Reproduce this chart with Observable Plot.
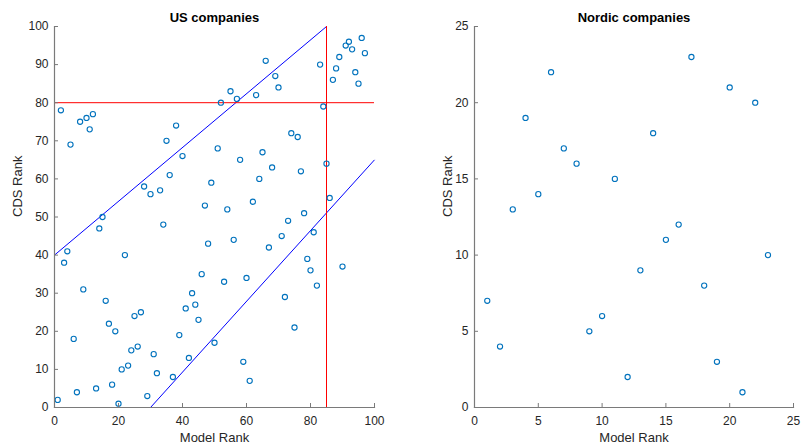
<!DOCTYPE html>
<html>
<head>
<meta charset="utf-8">
<script src="https://cdn.jsdelivr.net/npm/d3@7"></script>
<script src="https://cdn.jsdelivr.net/npm/@observablehq/plot@0.6"></script>
<style>
  html, body { margin: 0; padding: 0; background: #fff; }
  #wrap { position: relative; width: 803px; height: 448px; overflow: hidden; }
  #wrap > div { position: absolute; top: 0; }
</style>
</head>
<body>
<div id="wrap"><div id="p1" style="left:0"></div><div id="p2" style="left:400px"></div></div>
<script>
// ---- US companies ----
const usModelRank = [1,2,3,4,5,6,7,8,9,10,11,12,13,14,15,16,17,18,19,20,21,22,23,24,25,26,27,28,29,30,31,32,33,34,35,36,37,38,39,40,41,42,43,44,45,46,47,48,49,50,51,52,53,54,55,56,57,58,59,60,61,62,63,64,65,66,67,68,69,70,71,72,73,74,75,76,77,78,79,80,81,82,83,84,85,86,87,88,89,90,91,92,93,94,95,96,97];
const usCdsRank = [2,78,38,41,69,18,4,75,31,76,73,77,5,47,50,28,22,6,20,1,10,40,11,15,24,16,25,58,3,56,14,9,57,48,70,61,8,74,19,66,26,13,30,27,23,35,53,43,59,17,68,80,33,52,83,44,81,65,12,34,7,54,82,60,67,91,42,63,87,84,45,29,49,72,21,71,62,51,39,36,46,32,90,79,64,55,86,89,92,37,95,96,94,88,85,97,93];
// ---- Nordic companies ----
const nordicModelRank = [1,2,3,4,5,6,7,8,9,10,11,12,13,14,15,16,17,18,19,20,21,22,23];
const nordicCdsRank = [7,4,13,19,14,22,17,16,5,6,15,2,9,18,11,12,23,8,3,21,1,20,10];
// ---- reference lines (US panel) ----
const bandLineX1 = [0, 30];
const bandLineY1 = [40, 0];
const bandLineX2 = [85, 100];
const bandLineY2 = [100, 65];
const cutoffModel = [85];
const cutoffCds = [80];
// ---- tick labels ----
const usXTicks = [0,20,40,60,80,100];
const usYTicks = [0,10,20,30,40,50,60,70,80,90,100];
const nordicTicks = [0,5,10,15,20,25];

const titles = ["US companies", "Nordic companies"];
const xLabel = "Model Rank";
const yLabel = "CDS Rank";

const FONT = "'Liberation Sans', Arial, Helvetica, sans-serif";
const markerColor = "#0072BD";
const axisColor = "#7a7a7a";
const textColor = "#262626";
const HEIGHT = 448, MT = 26, MB = 41, TICK = 4;

function makePanel({width, marginLeft, marginRight, xDomain, yDomain, xTicks, yTicks, xs, ys, title, yLabelDx, extra}) {
  const fw = width - marginLeft - marginRight;
  const fh = HEIGHT - MT - MB;
  const pts = xs.map((x, i) => ({x, y: ys[i]}));
  return Plot.plot({
    width, height: HEIGHT,
    marginLeft, marginRight, marginTop: MT, marginBottom: MB,
    style: {fontFamily: FONT, fontSize: "12px", color: textColor, background: "#fff", overflow: "visible"},
    x: {domain: xDomain, label: null},
    y: {domain: yDomain, label: null},
    marks: [
      ...extra,
      Plot.dot(pts, {x: "x", y: "y", r: 2.6, stroke: markerColor, strokeWidth: 1.1, fill: "none"}),
      Plot.axisX({ticks: xTicks, tickSize: 0, tickPadding: 9, fill: textColor, fontSize: 12}),
      Plot.axisY({ticks: yTicks, tickSize: 0, tickPadding: 6, fill: textColor, fontSize: 12}),
      // inward tick marks (short rules anchored at the axes)
      Plot.ruleX(xTicks, {x: d => d, y1: yDomain[1], y2: yDomain[0], insetTop: fh - TICK, stroke: axisColor, strokeWidth: 1}),
      Plot.ruleY(yTicks, {y: d => d, x1: xDomain[0], x2: xDomain[1], insetRight: fw - TICK, stroke: axisColor, strokeWidth: 1}),
      Plot.frame({anchor: "bottom", stroke: axisColor, strokeWidth: 1.2}),
      Plot.frame({anchor: "left", stroke: axisColor, strokeWidth: 1.2}),
      Plot.text([title], {frameAnchor: "top", lineAnchor: "middle", dy: -9, fontWeight: "bold", fontSize: 13, fill: "#000"}),
      Plot.text([xLabel], {frameAnchor: "bottom", lineAnchor: "middle", dy: 30, fontSize: 13, fill: textColor}),
      Plot.text([yLabel], {frameAnchor: "left", lineAnchor: "middle", dx: yLabelDx, rotate: -90, fontSize: 13, fill: textColor})
    ]
  });
}

const p1 = makePanel({
  width: 400, marginLeft: 54, marginRight: 26,
  xDomain: [0, 100], yDomain: [0, 100], xTicks: usXTicks, yTicks: usYTicks,
  xs: usModelRank, ys: usCdsRank, title: titles[0], yLabelDx: -37,
  extra: [
    Plot.link([0, 1], {x1: i => bandLineX1[i], y1: i => bandLineY1[i], x2: i => bandLineX2[i], y2: i => bandLineY2[i], stroke: "#0000ff", strokeWidth: 1}),
    Plot.ruleY(cutoffCds, {y: d => d, stroke: "#ff0000", strokeWidth: 1}),
    Plot.ruleX(cutoffModel, {x: d => d, stroke: "#ff0000", strokeWidth: 1})
  ]
});

const p2 = makePanel({
  width: 403, marginLeft: 74, marginRight: 10,
  xDomain: [0, 25], yDomain: [0, 25], xTicks: nordicTicks, yTicks: nordicTicks,
  xs: nordicModelRank, ys: nordicCdsRank, title: titles[1], yLabelDx: -27,
  extra: []
});

document.getElementById("p1").appendChild(p1);
document.getElementById("p2").appendChild(p2);
</script>
</body>
</html>
